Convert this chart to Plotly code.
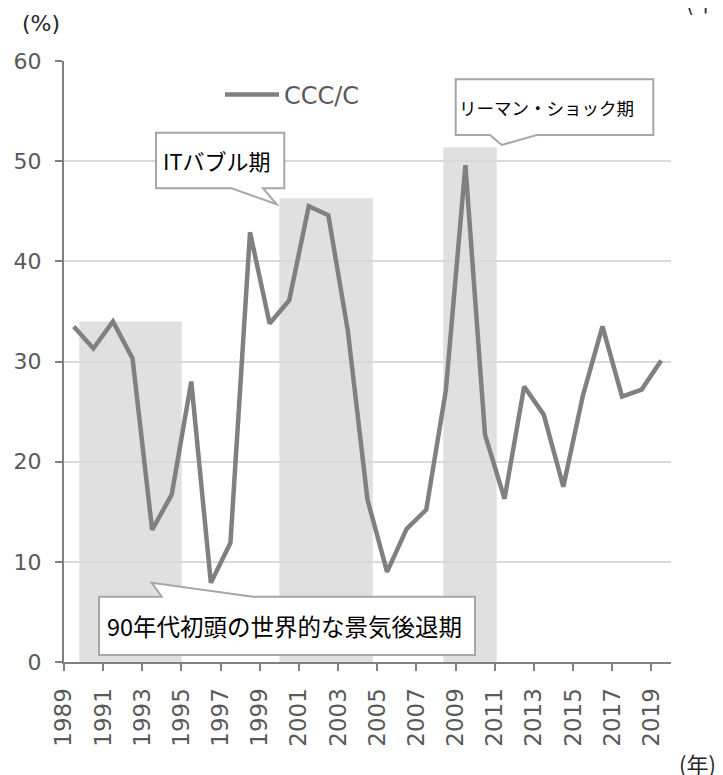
import plotly.graph_objects as go

# ---- data ----
years = list(range(1989, 2020))
ccc_c = [33.5, 31.3, 34.0, 30.3, 13.2, 16.7, 28.0, 7.9, 11.9, 42.9,
         33.8, 36.1, 45.5, 44.6, 33.0, 16.2, 9.0, 13.3, 15.2, 27.1,
         49.6, 22.7, 16.3, 27.5, 24.7, 17.5, 26.6, 33.5, 26.5, 27.2, 30.1]

tick_positions = [1988.5 + 2 * k for k in range(16)]
tick_labels = [str(1989 + 2 * k) for k in range(16)]

# shaded periods (start, end, height in %)
shade_start = [1989.28, 1999.5, 2007.87]
shade_end = [1994.51, 2004.27, 2010.6]
shade_top = [34.0, 46.3, 51.4]

# ---- layout geometry (page pixels; page has an 8px body margin) ----
OFF = 8
W, H = 723, 775
L, R, T, B = 64, 671, 61, 662


def px(x):
    return (x - L) / (R - L)


def py(y):
    return (B - y) / (B - T)


fig = go.Figure()

fig.add_trace(go.Scatter(
    x=years, y=ccc_c, mode="lines", name="CCC/C",
    line=dict(color="#808080", width=4.5),
))

shapes = []
for s, e, t in zip(shade_start, shade_end, shade_top):
    shapes.append(dict(type="rect", xref="x", yref="y", x0=s, x1=e, y0=0, y1=t,
                       fillcolor="#e0e0e0", line=dict(width=0), layer="below"))


def path(points):
    return "M " + " L ".join(f"{px(x):.5f},{py(y):.5f}" for x, y in points) + " Z"


callout_style = dict(type="path", xref="paper", yref="paper",
                     fillcolor="white", line=dict(color="#a6a6a6", width=2),
                     layer="above")

# IT bubble callout
shapes.append(dict(path=path([(156, 132.7), (284.3, 132.7), (284.3, 188.3), (263, 188.3),
                              (276.7, 204.3), (231.7, 188.3), (156, 188.3)]), **callout_style))
# Lehman callout
shapes.append(dict(path=path([(455.7, 79.3), (653.3, 79.3), (653.3, 135), (536.7, 135),
                              (501.7, 145), (490, 135), (455.7, 135)]), **callout_style))
# 90s callout
shapes.append(dict(path=path([(99, 596.7), (161.7, 596.7), (151.7, 582.7), (253, 596.7),
                              (475, 596.7), (475, 655), (99, 655)]), **callout_style))

jp = "Noto Sans CJK JP"


def note(text, x, y, size, xanchor="left", color="#000000", family=jp):
    return dict(text=text, x=px(x), y=py(y), xref="paper", yref="paper",
                xanchor=xanchor, yanchor="middle", showarrow=False,
                font=dict(family=family, size=size, color=color))


annotations = [
    note("ITバブル期", 161, 160.5, 22),
    note("リーマン・ショック期", 457, 107, 17.5),
    note("90年代初頭の世界的な景気後退期", 105, 626, 23.5),
    note("(%)", 41, 23, 22, xanchor="center", color="#262626", family="DejaVu Sans"),
    note("(年)", 698, 763, 22, xanchor="center", color="#262626"),
    note("(年)", 704, 1, 22, xanchor="center", color="#262626"),
]

fig.update_layout(
    width=W, height=H,
    margin=dict(l=L - OFF, r=W - R + OFF, t=T - OFF, b=H - B + OFF, pad=0),
    paper_bgcolor="white", plot_bgcolor="white",
    showlegend=True,
    legend=dict(x=px(220), y=py(95), xanchor="left", yanchor="middle",
                xref="paper", yref="paper", bgcolor="rgba(0,0,0,0)",
                itemwidth=54,
                font=dict(family="DejaVu Sans", size=24, color="#595959")),
    shapes=shapes,
    annotations=annotations,
    xaxis=dict(range=[1988.5, 2019.5], tickmode="array", tickvals=tick_positions,
               ticktext=tick_labels, tickangle=-90, showgrid=False, zeroline=False,
               showline=True, linecolor="#808080", linewidth=2, automargin=False,
               ticks="outside", ticklen=7, tickwidth=2, tickcolor="#808080",
               ticklabelstandoff=8,
               tickfont=dict(family="DejaVu Sans", size=23, color="#595959")),
    yaxis=dict(range=[0, 60], tickvals=[0, 10, 20, 30, 40, 50, 60],
               showgrid=True, gridcolor="#d9d9d9", gridwidth=2, zeroline=False,
               showline=True, linecolor="#808080", linewidth=2, automargin=False,
               ticks="outside", ticklen=7, tickwidth=2, tickcolor="#808080",
               ticklabelstandoff=9,
               tickfont=dict(family="DejaVu Sans", size=22, color="#595959")),
)

fig.write_html("out.html")
